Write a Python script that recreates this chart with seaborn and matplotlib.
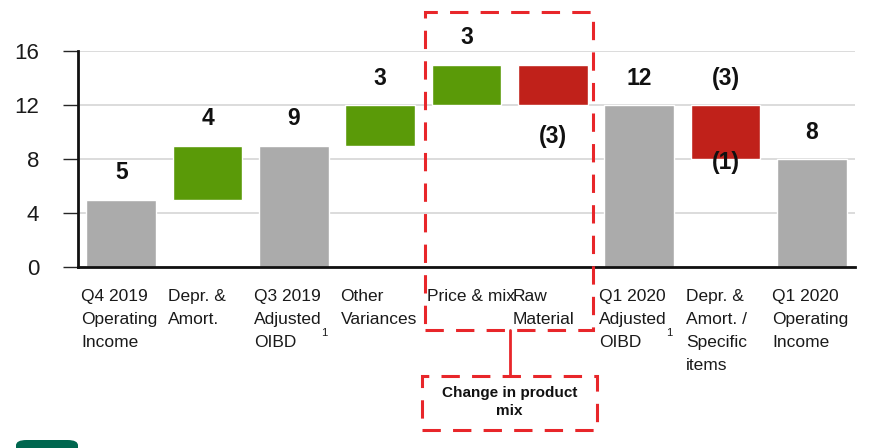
import numpy as np
import pandas as pd
import matplotlib
matplotlib.use("Agg")
import matplotlib.pyplot as plt
import matplotlib.patches as mpatches
import seaborn as sns

# --- data ---
categories = ["Q4 2019\nOperating\nIncome", "Depr. &\nAmort.", "Q3 2019\nAdjusted\nOIBD",
              "Other\nVariances", "Price & mix", "Raw\nMaterial", "Q1 2020\nAdjusted\nOIBD",
              "Depr. &\nAmort. /\nSpecific\nitems", "Q1 2020\nOperating\nIncome"]
values = [5, 4, 9, 3, 3, -3, 12, -4, 8]
kinds = ["total", "up", "total", "up", "up", "down", "total", "down", "total"]
value_labels = ["5", "4", "9", "3", "3", "(3)", "12", "(3)", "8"]
extra_labels = {7: "(1)"}
footnote_bars = [2, 6]
box_text = "Change in product\nmix"

colors = {"total": "#ABABAB", "up": "#5A9A08", "down": "#C0211A"}
DASH_RED = "#E8262A"

# waterfall bottoms / heights
bottoms, heights = [], []
running = 0
for v, k in zip(values, kinds):
    if k == "total":
        running = v
        bottoms.append(0)
        heights.append(v)
    elif k == "up":
        bottoms.append(running)
        heights.append(v)
        running += v
    else:
        running += v
        bottoms.append(running)
        heights.append(-v)

df = pd.DataFrame({"category": categories, "height": heights,
                   "bottom": bottoms, "kind": kinds})

sns.set_style("white")
plt.rcParams["font.family"] = ["Liberation Sans", "DejaVu Sans"]

fig = plt.figure(figsize=(8.75, 4.48), dpi=100)
ax = fig.add_axes([78 / 875, 1 - 267 / 448, (855 - 78) / 875, 216 / 448])

for kind in ["total", "up", "down"]:
    sub = df[df["kind"] == kind]
    sns.barplot(data=sub, x="category", y="height", order=categories,
                color=colors[kind], saturation=1, errorbar=None,
                bottom=sub["bottom"].to_numpy(), width=0.81, ax=ax, zorder=2)

ax.set_xlim(-0.5, len(categories) - 0.5)
ax.set_ylim(0, 16)
ax.set_yticks([0, 4, 8, 12, 16])
ax.yaxis.grid(True, color="#D9D9D9", linewidth=1.3, zorder=0)
ax.set_axisbelow(True)
ax.set_xlabel("")
ax.set_ylabel("")
ax.set_xticks(range(len(categories)))
ax.set_xticklabels([])
ax.tick_params(axis="x", length=0)
ax.tick_params(axis="y", length=11, width=1.0, pad=17, labelsize=16,
               labelcolor="#1a1a1a", direction="out", left=True)
for s in ["top", "right"]:
    ax.spines[s].set_visible(False)
for s in ["left", "bottom"]:
    ax.spines[s].set_color("#111111")
    ax.spines[s].set_linewidth(2.0)

# category labels, left aligned under each bar
for i, cat in enumerate(categories):
    ax.annotate(cat, xy=(i - 0.46, 0), xycoords=("data", "axes fraction"),
                xytext=(0, -22), textcoords="offset pixels",
                ha="left", va="top", fontsize=12.5, linespacing=1.68,
                color="#1a1a1a")

# footnote marks
for i in footnote_bars:
    ax.annotate("1", xy=(i - 0.46, 0), xycoords=("data", "axes fraction"),
                xytext=(67, -66), textcoords="offset pixels",
                ha="left", va="center", fontsize=8, color="#1a1a1a")

# value labels
for i, (lab, k) in enumerate(zip(value_labels, kinds)):
    top = bottoms[i] + heights[i]
    if k == "down" and i == 5:
        y, off = bottoms[i], -31
    else:
        y, off = top, 27
    ax.annotate(lab, xy=(i, y), xytext=(0, off), textcoords="offset pixels",
                ha="center", va="center", fontsize=16.5, fontweight="bold",
                color="#111111", annotation_clip=False)
for i, lab in extra_labels.items():
    ax.annotate(lab, xy=(i, bottoms[i]), xytext=(0, -3), textcoords="offset pixels",
                ha="center", va="center", fontsize=16.5, fontweight="bold",
                color="#111111", annotation_clip=False)

# dashed highlight boxes (figure pixel coordinates)
W, H = 875, 448


def fig_rect(x0, y0, x1, y1):
    return mpatches.Rectangle((x0 / W, 1 - y1 / H), (x1 - x0) / W, (y1 - y0) / H,
                              transform=fig.transFigure, fill=False,
                              edgecolor=DASH_RED, linewidth=2.2,
                              linestyle=(0, (6, 4)), zorder=5)


fig.add_artist(fig_rect(425, 12, 593, 330))
fig.add_artist(fig_rect(422, 376, 597, 430))
fig.add_artist(plt.Line2D([510 / W, 510 / W], [1 - 330 / H, 1 - 376 / H],
                          transform=fig.transFigure, color=DASH_RED, linewidth=2))
fig.text(509.5 / W, 1 - 402 / H, box_text, ha="center", va="center",
         fontsize=11, fontweight="bold", linespacing=1.45,
         color="#111111")

# logo stub at bottom-left
fig.add_artist(mpatches.FancyBboxPatch((16 / W, -10 / H), 62 / W, 18 / H,
                                       boxstyle="round,pad=0,rounding_size=0.012",
                                       transform=fig.transFigure,
                                       facecolor="#00674F", edgecolor="none"))

fig.savefig("out.png", dpi=100)
